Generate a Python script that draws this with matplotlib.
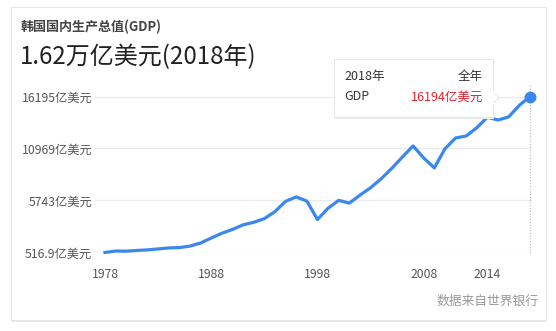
import matplotlib.pyplot as plt
from matplotlib.patches import Rectangle, Polygon

plt.rcParams['font.family'] = ['Noto Sans CJK SC', 'DejaVu Sans']

# 数据（亿美元）
years = list(range(1978, 2019))
gdp = [516.9, 665, 650, 725, 780, 875, 975, 1010, 1160, 1470,
       1970, 2450, 2830, 3300, 3550, 3920, 4630, 5660, 6100, 5690,
       3830, 4970, 5760, 5480, 6280, 7030, 7930, 8980, 10120, 11226,
       10020, 9019, 10944, 12025, 12228, 13056, 14114, 13828, 14148, 15307,
       16194]
y_ticks = [516.9, 5743, 10969, 16195]
y_labels = ['516.9亿美元', '5743亿美元', '10969亿美元', '16195亿美元']
x_ticks = [1978, 1988, 1998, 2008, 2014]

W, H = 556, 331


def fx(px):
    return px / W


def fy(py):
    return 1 - py / H


fig = plt.figure(figsize=(W / 100, H / 100), dpi=100)
fig.patch.set_facecolor('white')

# 卡片
fig.patches.append(Rectangle((fx(12), fy(322)), fx(546) - fx(12), fy(9) - fy(322),
                             transform=fig.transFigure, facecolor='#ececec',
                             edgecolor='none', zorder=-2))
fig.patches.append(Rectangle((fx(11), fy(320)), fx(546) - fx(11), fy(7) - fy(320),
                             transform=fig.transFigure, facecolor='white',
                             edgecolor='#e6e6e6', linewidth=0.8, zorder=-1))

fig.text(fx(21), fy(27), '韩国国内生产总值(GDP)', fontsize=9.4, fontweight='bold',
         color='#444444', va='center', ha='left')
fig.text(fx(20), fy(57), '1.62万亿美元(2018年)', fontsize=17.3,
         color='#222222', va='center', ha='left')
fig.text(fx(539), fy(301), '数据来自世界银行', fontsize=9.2,
         color='#999999', va='center', ha='right')

ax = fig.add_axes([fx(95), fy(252.5), fx(531) - fx(95), fy(96.5) - fy(252.5)])
ax.set_zorder(2)
ax.set_facecolor('none')
ax.set_xlim(1977.06, 2018.1)
ax.set_ylim(516.9, 16195)
for s in ax.spines.values():
    s.set_visible(False)
ax.set_yticks(y_ticks)
ax.set_yticklabels(y_labels)
ax.set_xticks(x_ticks)
ax.tick_params(axis='both', length=0, labelsize=8.8, colors='#555555')
ax.tick_params(axis='y', pad=2)
ax.tick_params(axis='x', pad=11)
for t in y_ticks:
    ax.axhline(t, color='#ebebeb', linewidth=1, zorder=1)

ax.axvline(years[-1], ymin=0, ymax=1.08, color='#b0b8c8', linewidth=0.8,
           linestyle=(0, (1, 1.5)), clip_on=False, zorder=2)
ax.plot(years, gdp, color='#3a87ee', linewidth=2.3, solid_joinstyle='round',
        zorder=3, clip_on=False)
ax.plot(years[-1], gdp[-1], 'o', color='#3a87ee', markersize=7.5,
        clip_on=False, zorder=4)

# 提示框
fig.patches.append(Rectangle((fx(335), fy(118.5)), fx(494) - fx(335), fy(61) - fy(118.5),
                             transform=fig.transFigure, facecolor='#ececec',
                             edgecolor='none', zorder=5))
fig.patches.append(Rectangle((fx(334), fy(116.5)), fx(493) - fx(334), fy(59) - fy(116.5),
                             transform=fig.transFigure, facecolor='white',
                             edgecolor='#e3e3e3', linewidth=0.6, zorder=6))
fig.patches.append(Polygon([(fx(492.5), fy(92)), (fx(499), fy(98)), (fx(492.5), fy(104))],
                           closed=True, transform=fig.transFigure, facecolor='white',
                           edgecolor='#e3e3e3', linewidth=0.6, zorder=6))
fig.patches.append(Rectangle((fx(491), fy(104.5)), fx(493.5) - fx(491), fy(91.5) - fy(104.5),
                             transform=fig.transFigure, facecolor='white',
                             edgecolor='none', zorder=7))
fig.text(fx(344), fy(77), '2018年', fontsize=9, color='#333333',
         va='center', ha='left', zorder=8)
fig.text(fx(483), fy(77), '全年', fontsize=9, color='#333333',
         va='center', ha='right', zorder=8)
fig.text(fx(344), fy(97), 'GDP', fontsize=9, color='#333333',
         va='center', ha='left', zorder=8)
fig.text(fx(483), fy(97), '16194亿美元', fontsize=9, color='#e4232f',
         va='center', ha='right', zorder=8)

fig.savefig('out.png', dpi=100)
